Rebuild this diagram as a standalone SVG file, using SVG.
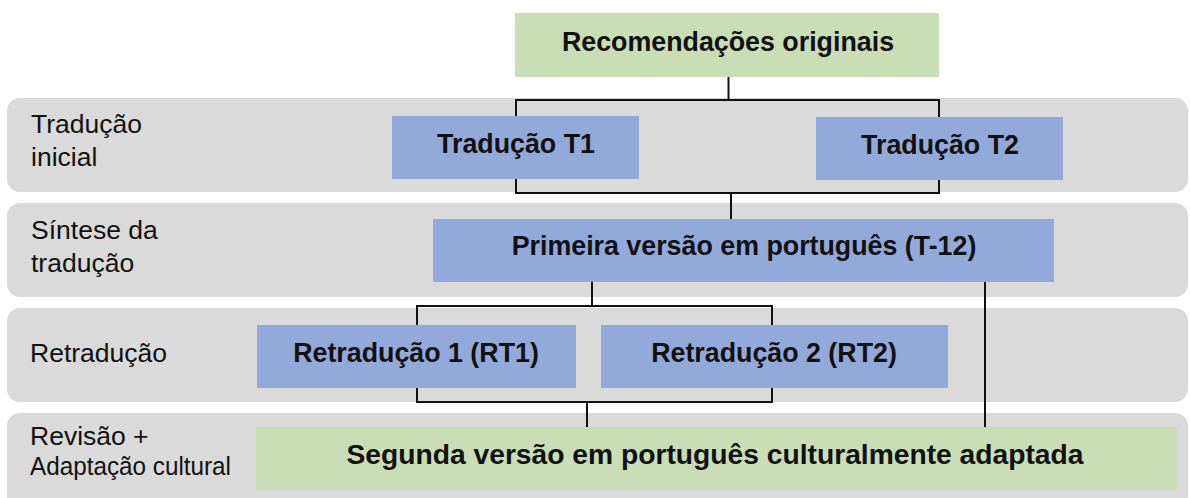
<svg xmlns="http://www.w3.org/2000/svg" width="1190" height="498" viewBox="0 0 1190 498">
<style>
.band{fill:#dadada}
.green{fill:#c9ddb7}
.blue{fill:#93a9da}
.lbl{font-family:"Liberation Sans",Arial,sans-serif;font-size:26.5px;fill:#111}
.node{font-family:"Liberation Sans",Arial,sans-serif;font-size:26.8px;font-weight:bold;fill:#111;text-anchor:middle}
.conn{fill:none;stroke:#111;stroke-width:2}
</style>
<rect width="1190" height="498" fill="#ffffff"/>
<g id="bands">
<g id="band-traducao-inicial"><rect class="band" x="7" y="98" width="1181" height="94" rx="13"/>
<text class="lbl" x="31" y="133">Tradução</text><text class="lbl" x="31" y="166">inicial</text></g>
<g id="band-sintese"><rect class="band" x="7" y="203" width="1181" height="94" rx="13"/>
<text class="lbl" x="31" y="239">Síntese da</text><text class="lbl" x="31" y="272">tradução</text></g>
<g id="band-retraducao"><rect class="band" x="7" y="308" width="1181" height="94" rx="13"/>
<text class="lbl" x="30" y="362">Retradução</text></g>
<g id="band-revisao"><rect class="band" x="7" y="413" width="1181" height="96" rx="13"/>
<text class="lbl" x="30" y="445">Revisão +</text><text class="lbl" x="30" y="475" textLength="201" lengthAdjust="spacingAndGlyphs">Adaptação cultural</text></g>
</g>
<g id="connectors">
<path class="conn" d="M728.5,77 V100"/>
<path class="conn" d="M516,117 V100 H939 V118"/>
<path class="conn" d="M516,179 V193 H939 V180"/>
<path class="conn" d="M731,193 V219"/>
<path class="conn" d="M592,282 V306"/>
<path class="conn" d="M417,326 V306 H772 V326"/>
<path class="conn" d="M417,388 V402 H772 V388"/>
<path class="conn" d="M587,402 V428"/>
<path class="conn" d="M985,282 V428"/>
</g>
<g id="node-recomendacoes"><rect class="green" x="515" y="13" width="424" height="64"/>
<text class="node" x="728" y="51">Recomendações originais</text></g>
<g id="node-t1"><rect class="blue" x="392" y="116" width="247" height="63"/>
<text class="node" x="516" y="153">Tradução T1</text></g>
<g id="node-t2"><rect class="blue" x="816" y="117" width="247" height="63"/>
<text class="node" x="940" y="154">Tradução T2</text></g>
<g id="node-t12"><rect class="blue" x="433" y="219" width="621" height="63"/>
<text class="node" x="744" y="255">Primeira versão em português (T-12)</text></g>
<g id="node-rt1"><rect class="blue" x="257" y="325" width="319" height="63"/>
<text class="node" x="416" y="362">Retradução 1 (RT1)</text></g>
<g id="node-rt2"><rect class="blue" x="601" y="325" width="347" height="63"/>
<text class="node" x="774" y="362">Retradução 2 (RT2)</text></g>
<g id="node-segunda"><rect class="green" x="256" y="427" width="921" height="63"/>
<text class="node" x="715" y="464" style="font-size:28px" textLength="737" lengthAdjust="spacingAndGlyphs">Segunda versão em português culturalmente adaptada</text></g>
</svg>
